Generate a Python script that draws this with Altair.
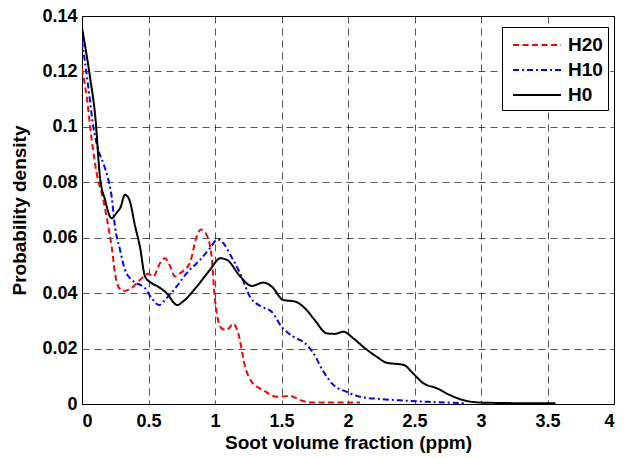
import altair as alt
import pandas as pd

series_names = ["H20", "H10", "H0"]
series_colors = ["#ff0000", "#0000ff", "#000000"]
series_dashes = [[6, 3.5], [6, 3, 2, 3], [1, 0]]

h20_x = [0, 0.035, 0.073, 0.11, 0.16, 0.198, 0.223, 0.248, 0.273, 0.31, 0.36, 0.436, 0.5, 0.536,
         0.586, 0.624, 0.66, 0.7, 0.737, 0.81, 0.862, 0.895, 0.937, 0.975, 1.0, 1.05, 1.088, 1.138,
         1.175, 1.226, 1.276, 1.363, 1.464, 1.564, 1.64, 1.74, 2.09]
h20_y = [0.121, 0.111, 0.0953, 0.0833, 0.0737, 0.064, 0.0568, 0.0472, 0.0423, 0.0408, 0.0414, 0.0448,
         0.047, 0.046, 0.0508, 0.0526, 0.050, 0.046, 0.0472, 0.0508, 0.0604, 0.063, 0.061, 0.053,
         0.0375, 0.0273, 0.0267, 0.029, 0.0255, 0.0135, 0.008, 0.005, 0.0026, 0.0029, 0.0014, 0.0005, 0.0005]

h10_x = [0, 0.047, 0.085, 0.123, 0.16, 0.198, 0.223, 0.248, 0.286, 0.323, 0.36, 0.41, 0.474, 0.524,
         0.58, 0.636, 0.712, 0.787, 0.887, 0.962, 1.02, 1.063, 1.113, 1.188, 1.263, 1.35, 1.426, 1.5,
         1.589, 1.677, 1.74, 1.815, 1.89, 1.99, 2.09, 2.24, 2.44, 2.6, 2.88]
h10_y = [0.131, 0.1145, 0.100, 0.0917, 0.0869, 0.0809, 0.0748, 0.064, 0.0556, 0.0484, 0.0454, 0.0436,
         0.0418, 0.0382, 0.0357, 0.0382, 0.0424, 0.0472, 0.052, 0.0562, 0.0594, 0.058, 0.054, 0.0472,
         0.0387, 0.0351, 0.0333, 0.0279, 0.0243, 0.0219, 0.0183, 0.0117, 0.0069, 0.0044, 0.0026,
         0.0018, 0.0012, 0.0008, 0.0003]

h0_x = [0, 0.06, 0.1, 0.135, 0.173, 0.223, 0.26, 0.29, 0.323, 0.356, 0.4, 0.436, 0.474, 0.524, 0.574,
        0.636, 0.717, 0.76, 0.862, 0.962, 1.04, 1.09, 1.19, 1.276, 1.363, 1.426, 1.514, 1.6, 1.677,
        1.75, 1.84, 1.90, 1.965, 2.04, 2.128, 2.215, 2.29, 2.38, 2.42, 2.49, 2.566, 2.667, 2.767,
        2.867, 2.967, 3.1, 3.3, 3.56]
h0_y = [0.1357, 0.118, 0.1036, 0.082, 0.0737, 0.067, 0.069, 0.071, 0.0755, 0.0737, 0.064, 0.0567,
        0.046, 0.0436, 0.0423, 0.040, 0.0357, 0.037, 0.0423, 0.0484, 0.0526, 0.052, 0.046, 0.0426,
        0.0438, 0.0424, 0.0375, 0.037, 0.0345, 0.0303, 0.0255, 0.0253, 0.0261, 0.0237, 0.0201,
        0.0171, 0.0149, 0.0144, 0.0141, 0.011, 0.0075, 0.0057, 0.0032, 0.0014, 0.0006, 0.0004,
        0.0003, 0.0003]

x_ticks = [0, 0.5, 1, 1.5, 2, 2.5, 3, 3.5, 4]
y_ticks = [0, 0.02, 0.04, 0.06, 0.08, 0.1, 0.12, 0.14]

rows = []
for name, xs, ys in [("H20", h20_x, h20_y), ("H10", h10_x, h10_y), ("H0", h0_x, h0_y)]:
    for i, (a, b) in enumerate(zip(xs, ys)):
        rows.append({"series": name, "x": a, "y": b, "i": i})
df = pd.DataFrame(rows)

FONT = "Liberation Sans"

x_enc = alt.X("x:Q", scale=alt.Scale(domain=[0, 4], nice=False, zero=False),
              axis=alt.Axis(values=x_ticks, format="~g", title="Soot volume fraction (ppm)",
                            grid=True, gridColor="#000000", gridDash=[7, 5], gridWidth=0.8,
                            gridOpacity=0.85, ticks=False, labelPadding=8, titlePadding=3,
                            domainColor="#000000", domainWidth=1))
y_enc = alt.Y("y:Q", scale=alt.Scale(domain=[0, 0.14], nice=False, zero=False),
              axis=alt.Axis(values=y_ticks, format="~g", title="Probability density",
                            grid=True, gridColor="#000000", gridDash=[7, 5], gridWidth=0.8,
                            gridOpacity=0.85, ticks=False, labelPadding=5, titlePadding=12,
                            domainColor="#000000", domainWidth=1))
color_enc = alt.Color("series:N", scale=alt.Scale(domain=series_names, range=series_colors),
                      legend=alt.Legend(title=None, orient="none", legendX=420, legendY=11,
                                        symbolType="M-0.58,0H3.42", symbolSize=576,
                                        symbolStrokeWidth=2, symbolFillColor="transparent",
                                        labelFont=FONT, labelFontSize=19, labelFontWeight="bold",
                                        labelColor="#000000", strokeColor="#000000",
                                        fillColor="#ffffff", padding=5, rowPadding=2,
                                        labelOffset=35))
dash_enc = alt.StrokeDash("series:N", scale=alt.Scale(domain=series_names, range=series_dashes))

layers = []
for name in series_names:
    layers.append(
        alt.Chart(df).transform_filter(alt.datum.series == name)
        .mark_line(strokeWidth=2, interpolate="monotone", clip=True)
        .encode(x=x_enc, y=y_enc, color=color_enc, strokeDash=dash_enc, order="i:Q")
    )

chart = alt.layer(*layers).properties(
    width=532, height=388,
    autosize=alt.AutoSizeParams(type="none"),
    padding={"left": 82, "top": 16, "right": 15, "bottom": 54},
    background="#ffffff",
).configure_view(stroke="#000000", strokeWidth=1).configure_axis(
    labelFont=FONT, labelFontSize=18, labelFontWeight="bold", labelColor="#000000",
    titleFont=FONT, titleFontSize=19, titleFontWeight="bold", titleColor="#000000",
)

chart.save("out.html", embed_options={"renderer": "svg", "actions": False})
